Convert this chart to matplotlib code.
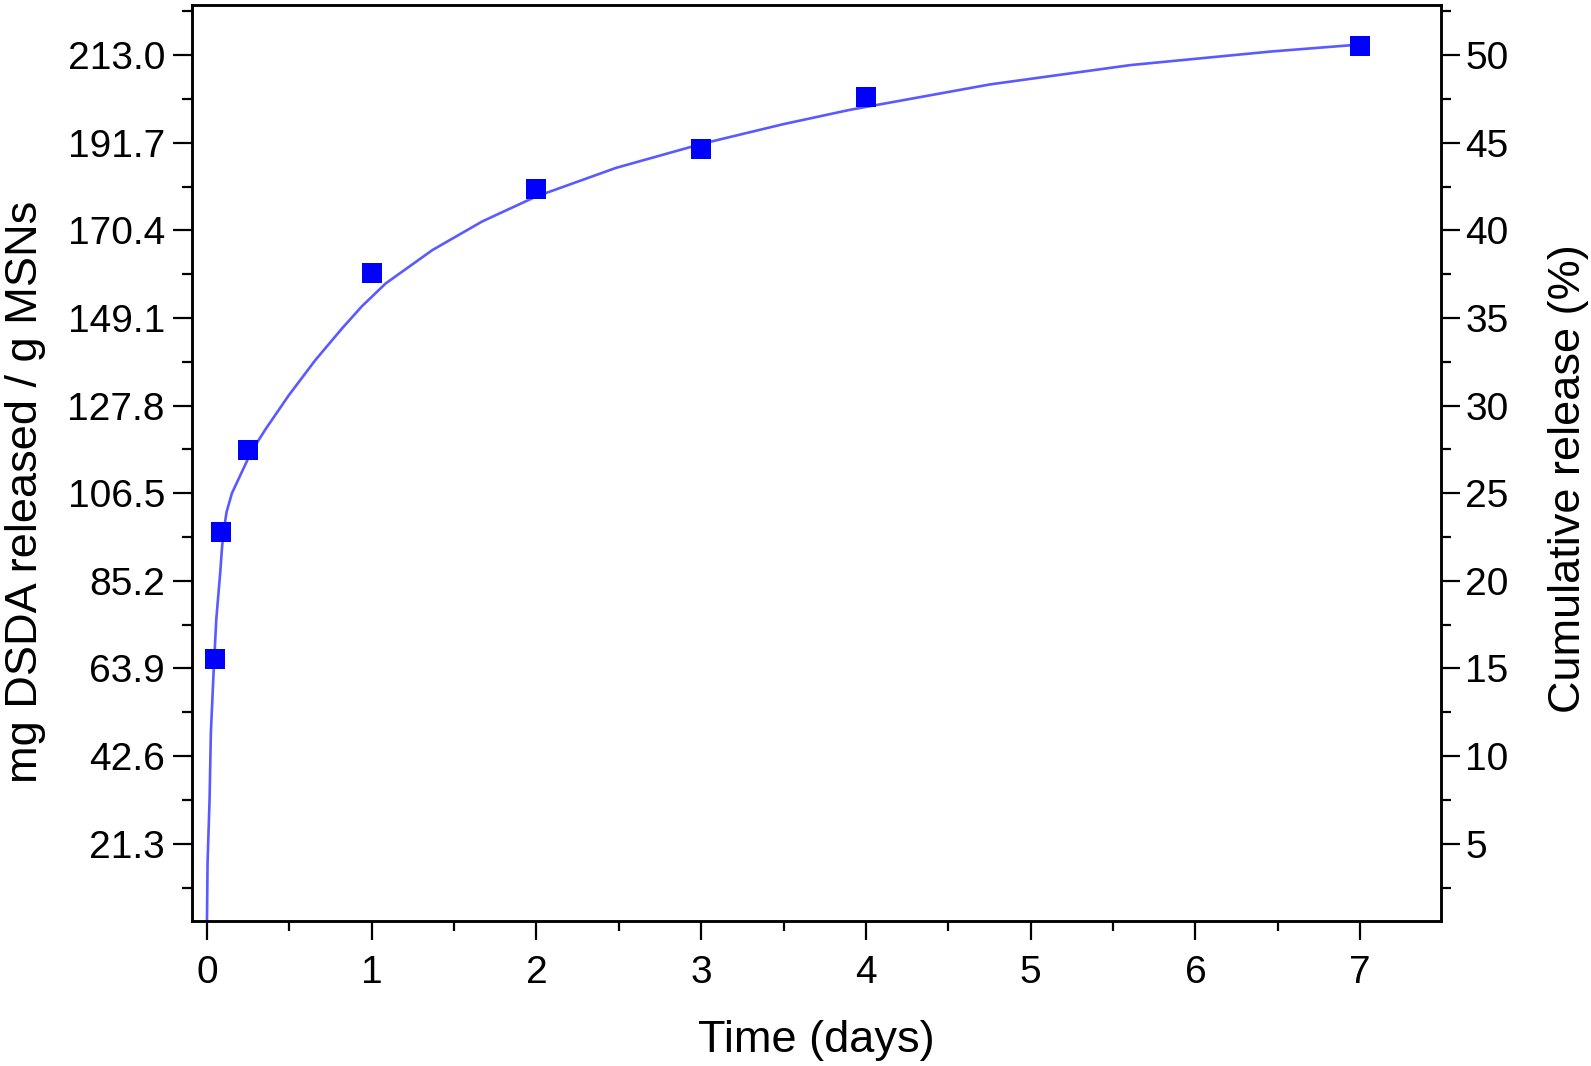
import matplotlib
matplotlib.use("Agg")
import matplotlib.pyplot as plt
from matplotlib.ticker import MultipleLocator, FormatStrFormatter

plt.rcParams["font.family"] = ["Liberation Sans", "DejaVu Sans"]

# ── 数据───────────────────────────────────────────────────────────────
time_days = [0.05, 0.083, 0.25, 1, 2, 3, 4, 7]
released_mg = [66.3, 97.2, 116.9, 160.1, 180.4, 190.3, 202.9, 215.3]

# 拟合曲线（沿曲线读取的点）
fit_days = [0.0, 0.0043, 0.0164, 0.0243, 0.0407, 0.0571, 0.0815, 0.091, 0.1015,
            0.12, 0.152, 0.2535, 0.284, 0.355, 0.497, 0.659, 0.821, 0.942,
            1.085, 1.368, 1.672, 1.996, 2.483, 3.009, 3.495, 3.901, 4.754,
            5.607, 6.460, 7.0]
fit_mg = [0.0, 16.7, 32.0, 48.3, 62.9, 75.8, 87.4, 92.8, 97.2,
          102.0, 106.5, 115.2, 117.5, 122.0, 130.3, 138.9, 146.6, 152.0,
          157.5, 165.6, 172.6, 178.6, 185.6, 191.5, 196.2, 199.7, 205.9,
          210.6, 213.9, 215.6]

MG_PER_PCT = 4.26          # 213.0 mg/g == 50 %
Y_LIM = (2.5, 225.2)
X_LIM = (-0.09, 7.49)

# ── 绘图 ──────────────────────────────────────────────────────────────────────
fig = plt.figure(figsize=(15.91, 10.66), dpi=100)
ax = fig.add_axes([0.1207, 0.136, 0.785, 0.8593])
ax2 = ax.twinx()

ax.plot(fit_days, fit_mg, color="#5a5aff", lw=1.9, zorder=2,
        solid_joinstyle="round")
ax.plot(time_days, released_mg, ls="none", marker="s", ms=14.5,
        color="#0000ff", mec="#0000ff", mew=0, zorder=3)

ax.set_xlim(*X_LIM)
ax.set_ylim(*Y_LIM)
ax2.set_ylim(Y_LIM[0] / MG_PER_PCT, Y_LIM[1] / MG_PER_PCT)

ax.xaxis.set_major_locator(MultipleLocator(1))
ax.xaxis.set_minor_locator(MultipleLocator(0.5))
ax.yaxis.set_major_locator(MultipleLocator(21.3))
ax.yaxis.set_minor_locator(MultipleLocator(10.65))
ax.yaxis.set_major_formatter(FormatStrFormatter("%.1f"))
ax2.yaxis.set_major_locator(MultipleLocator(5))
ax2.yaxis.set_minor_locator(MultipleLocator(2.5))

for a in (ax, ax2):
    for sp in a.spines.values():
        sp.set_linewidth(1.8)

ax.tick_params(axis="both", which="major", direction="out", length=13.5,
               width=1.6, labelsize=28)
ax.tick_params(axis="x", which="major", pad=11)
ax.tick_params(axis="y", which="major", pad=6)
ax.tick_params(axis="both", which="minor", direction="out", length=7,
               width=1.6)
ax.tick_params(axis="x", top=False, which="both")
ax.tick_params(axis="y", right=False, which="both")
ax2.tick_params(axis="y", which="major", direction="out", length=13.5,
                width=1.6, labelsize=28, pad=4)
ax2.tick_params(axis="y", which="minor", direction="out", length=7, width=1.6)

ax.set_xlabel("Time (days)", fontsize=32.5, va="center")
ax.xaxis.set_label_coords(0.5, -0.13)
ax.set_ylabel("mg DSDA released / g MSNs", fontsize=32.5, va="center")
ax.yaxis.set_label_coords(-0.133, 0.468)
ax2.set_ylabel("Cumulative release (%)", fontsize=32.5, va="center")
ax2.yaxis.set_label_coords(1.102, 0.4825)

fig.savefig("out.png", dpi=100)
